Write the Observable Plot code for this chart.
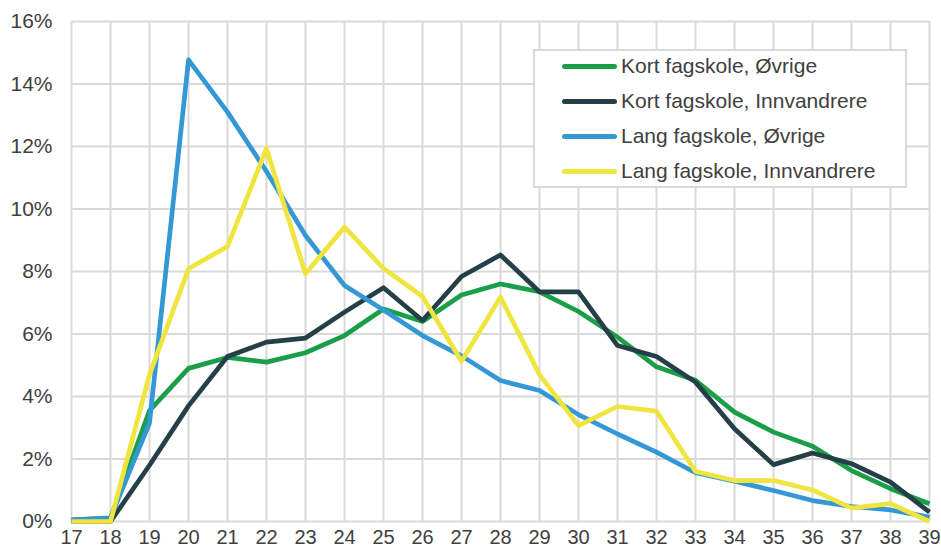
<!DOCTYPE html>
<html>
<head>
<meta charset="utf-8">
<script src="https://cdn.jsdelivr.net/npm/d3@7"></script>
<script src="https://cdn.jsdelivr.net/npm/@observablehq/plot@0.6"></script>
<style>
  html, body { margin: 0; padding: 0; background: #fff; }
  #wrap { position: relative; width: 941px; height: 548px; }
  #legend {
    position: absolute; left: 533px; top: 49px; width: 374px; height: 139px;
    box-sizing: border-box; border: 2px solid #d9d9d9; background: #fff;
    font-family: "Liberation Sans", Arial, sans-serif; font-size: 21px; color: #404040;
  }
  .row { position: absolute; left: 27px; height: 24px; display: flex; align-items: center; }
  .sw { width: 55px; height: 5px; border-radius: 3px; margin-right: 4px; }
</style>
</head>
<body>
<div id="wrap"></div>
<script>
const ages = [17,18,19,20,21,22,23,24,25,26,27,28,29,30,31,32,33,34,35,36,37,38,39];
const yTicks = [0,2,4,6,8,10,12,14,16];
const seriesNames = ["Kort fagskole, Øvrige","Kort fagskole, Innvandrere","Lang fagskole, Øvrige","Lang fagskole, Innvandrere"];
const seriesColors = ["#1a9e48","#243f47","#3598d6","#f0e43e"];

const kortOvrige      = [0.05,0.1,3.55,4.9,5.25,5.1,5.4,5.95,6.8,6.4,7.25,7.6,7.35,6.72,5.9,4.95,4.52,3.5,2.86,2.41,1.63,1.05,0.57];
const kortInnvandrere = [0,0,1.8,3.7,5.28,5.74,5.87,6.7,7.48,6.43,7.84,8.53,7.35,7.35,5.63,5.28,4.46,2.97,1.82,2.19,1.85,1.26,0.3];
const langOvrige      = [0.05,0.12,3.15,14.77,13.1,11.2,9.15,7.55,6.77,5.95,5.3,4.51,4.19,3.42,2.8,2.22,1.56,1.29,0.99,0.67,0.48,0.37,0.14];
const langInnvandrere = [0,0,4.7,8.09,8.8,11.93,7.93,9.42,8.1,7.2,5.13,7.18,4.7,3.07,3.68,3.53,1.6,1.31,1.31,1.01,0.43,0.57,0];

const seriesValues = [kortOvrige, kortInnvandrere, langOvrige, langInnvandrere];
const data = seriesNames.flatMap((name, i) => ages.map((age, j) => ({series: name, age, value: seriesValues[i][j]})));

const chart = Plot.plot({
  width: 941, height: 548,
  marginLeft: 71, marginRight: 12, marginTop: 21, marginBottom: 27,
  style: {fontFamily: "'Liberation Sans', Arial, sans-serif", fontSize: "21px", color: "#404040", background: "#fff"},
  x: {domain: [17, 39], label: null},
  y: {domain: [0, 16], label: null},
  color: {domain: seriesNames, range: seriesColors},
  marks: [
    Plot.gridX(ages, {stroke: "#d9d9d9", strokeOpacity: 1, strokeWidth: 2}),
    Plot.gridY(yTicks, {stroke: "#d9d9d9", strokeOpacity: 1, strokeWidth: 2}),
    Plot.axisX(ages, {tickSize: 0, tickPadding: 8, fontSize: 20, tickFormat: d => String(d), fill: "#404040", label: null}),
    Plot.axisY(yTicks, {tickSize: 0, tickPadding: 19, tickFormat: d => d + "%", fill: "#404040", label: null}),
    Plot.line(data, {x: "age", y: "value", z: "series", stroke: "series", strokeWidth: 4.7, strokeLinejoin: "round", strokeLinecap: "butt"})
  ]
});

const wrap = document.getElementById("wrap");
wrap.appendChild(chart);

const legend = document.createElement("div");
legend.id = "legend";
seriesNames.forEach((name, i) => {
  const row = document.createElement("div");
  row.className = "row";
  row.style.top = (3 + i * 35) + "px";
  const sw = document.createElement("div");
  sw.className = "sw";
  sw.style.background = seriesColors[i];
  const label = document.createElement("span");
  label.textContent = name;
  row.appendChild(sw);
  row.appendChild(label);
  legend.appendChild(row);
});
wrap.appendChild(legend);
</script>
</body>
</html>
